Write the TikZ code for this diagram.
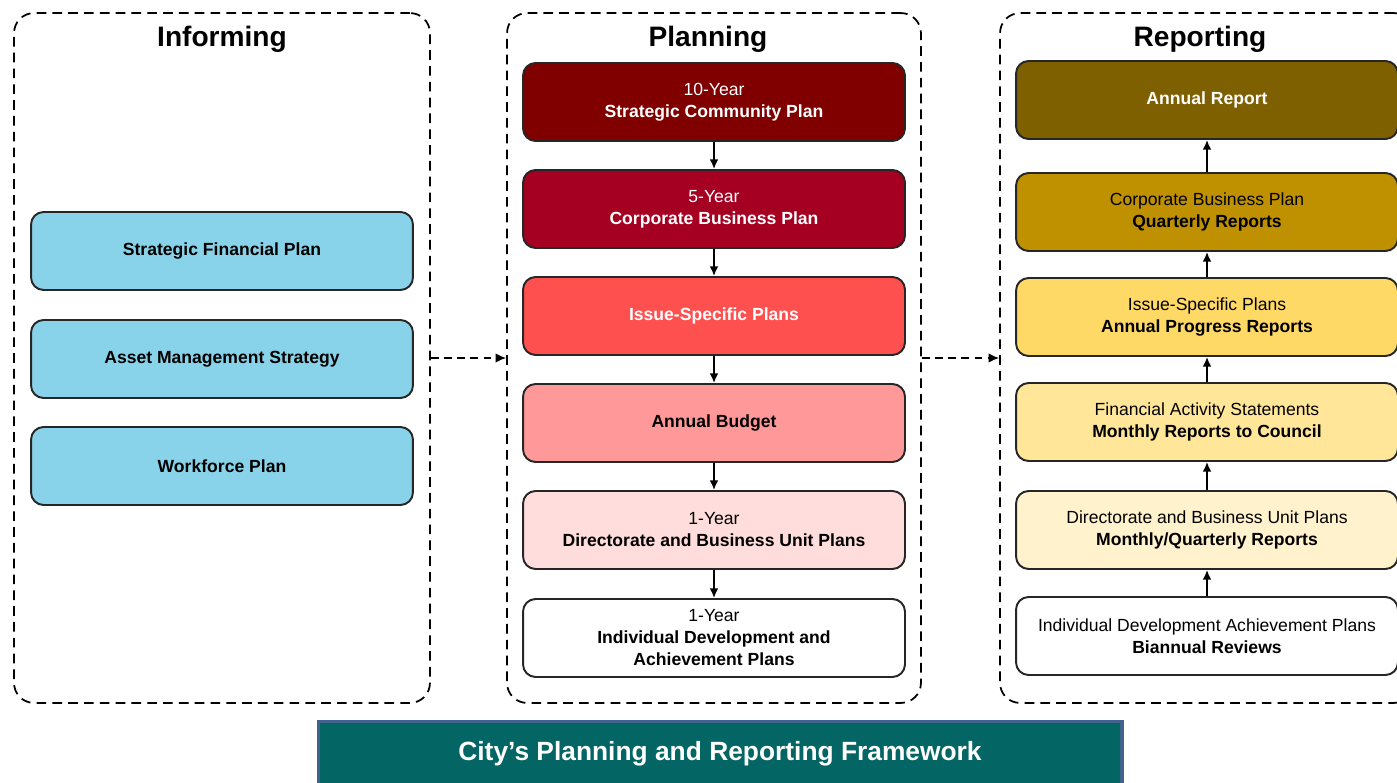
\documentclass[tikz,border=0pt]{standalone}
\usepackage{fontspec}
\setmainfont{Liberation Sans}
\usepackage{tikz}
\usetikzlibrary{arrows.meta}
\definecolor{skyb}{HTML}{89D3EA}
\definecolor{pmaroon}{HTML}{800000}
\definecolor{pcrimson}{HTML}{A50021}
\definecolor{pred}{HTML}{FF5050}
\definecolor{ppink}{HTML}{FF9999}
\definecolor{plight}{HTML}{FFDDDD}
\definecolor{rolive}{HTML}{7F6000}
\definecolor{rgold}{HTML}{BF9000}
\definecolor{ryellow}{HTML}{FFD966}
\definecolor{rlight}{HTML}{FFE699}
\definecolor{rpale}{HTML}{FFF2CC}
\definecolor{bteal}{HTML}{036564}
\definecolor{bedge}{HTML}{41628F}
\tikzstyle{panel}=[draw, line width=1pt, dash pattern=on 5.5pt off 3.5pt, rounded corners=0.4cm, inner sep=0pt, minimum height=13.8cm]
\tikzstyle{head}=[font=\fontsize{16}{18}\selectfont\bfseries, anchor=base]
\tikzstyle{box}=[draw=black!85, line width=1.1pt, rounded corners=0.25cm, minimum width=7.64cm, minimum height=1.56cm, inner sep=2pt, align=center, font=\fontsize{10}{12.5}\selectfont]
\tikzstyle{edge}=[line width=1pt, -{Latex[length=5.5pt, width=5pt]}]
\tikzstyle{flow}=[line width=1.1pt, dash pattern=on 4.5pt off 3pt, -{Latex[length=6pt, width=5.5pt]}]
\tikzstyle{banner}=[draw=bedge, line width=1.8pt, fill=bteal, text=white, minimum width=16.08cm, minimum height=1.3cm, font=\fontsize{15}{18}\selectfont\bfseries]

\begin{document}
\begin{tikzpicture}[x=0.02cm, y=-0.02cm]
	\useasboundingbox (0,0) rectangle (1397,783);
	% the three columns
	\draw (222,358) node[panel, minimum width=8.32cm] (inf) {};
	\draw (714,358) node[panel, minimum width=8.28cm] (plan) {};
	\draw (1207,358) node[panel, minimum width=8.28cm] (rep) {};
	\draw (222,47) node[head] (tInf) {Informing};
	\draw (708,47) node[head] (tPlan) {Planning};
	\draw (1200,47) node[head] (tRep) {Reporting};
	% informing
	\draw (222,251) node[box, fill=skyb] (i1) {\bfseries Strategic Financial Plan};
	\draw (222,359) node[box, fill=skyb] (i2) {\bfseries Asset Management Strategy};
	\draw (222,466) node[box, fill=skyb] (i3) {\bfseries Workforce Plan};
	% planning
	\draw (714,102) node[box, fill=pmaroon, text=white] (p1) {10-Year\\\bfseries Strategic Community Plan};
	\draw (714,209) node[box, fill=pcrimson, text=white] (p2) {5-Year\\\bfseries Corporate Business Plan};
	\draw (714,316) node[box, fill=pred, text=white] (p3) {\bfseries Issue-Specific Plans};
	\draw (714,423) node[box, fill=ppink] (p4) {\bfseries Annual Budget};
	\draw (714,530) node[box, fill=plight] (p5) {1-Year\\\bfseries Directorate and Business Unit Plans};
	\draw (714,638) node[box, fill=white] (p6) {1-Year\\\bfseries Individual Development and\\\bfseries Achievement Plans};
	\draw[edge] (p1) -- (p2);
	\draw[edge] (p2) -- (p3);
	\draw[edge] (p3) -- (p4);
	\draw[edge] (p4) -- (p5);
	\draw[edge] (p5) -- (p6);
	% reporting
	\draw (1207,100) node[box, fill=rolive, text=white] (r1) {\bfseries Annual Report};
	\draw (1207,212) node[box, fill=rgold] (r2) {Corporate Business Plan\\\bfseries Quarterly Reports};
	\draw (1207,317) node[box, fill=ryellow] (r3) {Issue-Specific Plans\\\bfseries Annual Progress Reports};
	\draw (1207,422) node[box, fill=rlight] (r4) {Financial Activity Statements\\\bfseries Monthly Reports to Council};
	\draw (1207,530) node[box, fill=rpale] (r5) {Directorate and Business Unit Plans\\\bfseries Monthly/Quarterly Reports};
	\draw (1207,636) node[box, fill=white] (r6) {Individual Development Achievement Plans\\\bfseries Biannual Reviews};
	\draw[edge] (r6) -- (r5);
	\draw[edge] (r5) -- (r4);
	\draw[edge] (r4) -- (r3);
	\draw[edge] (r3) -- (r2);
	\draw[edge] (r2) -- (r1);
	% between columns
	\draw[flow] (inf) -- (plan);
	\draw[flow] (plan) -- (rep);
	\draw (720,754) node[banner] (title) {City’s Planning and Reporting Framework};
\end{tikzpicture}
\end{document}
